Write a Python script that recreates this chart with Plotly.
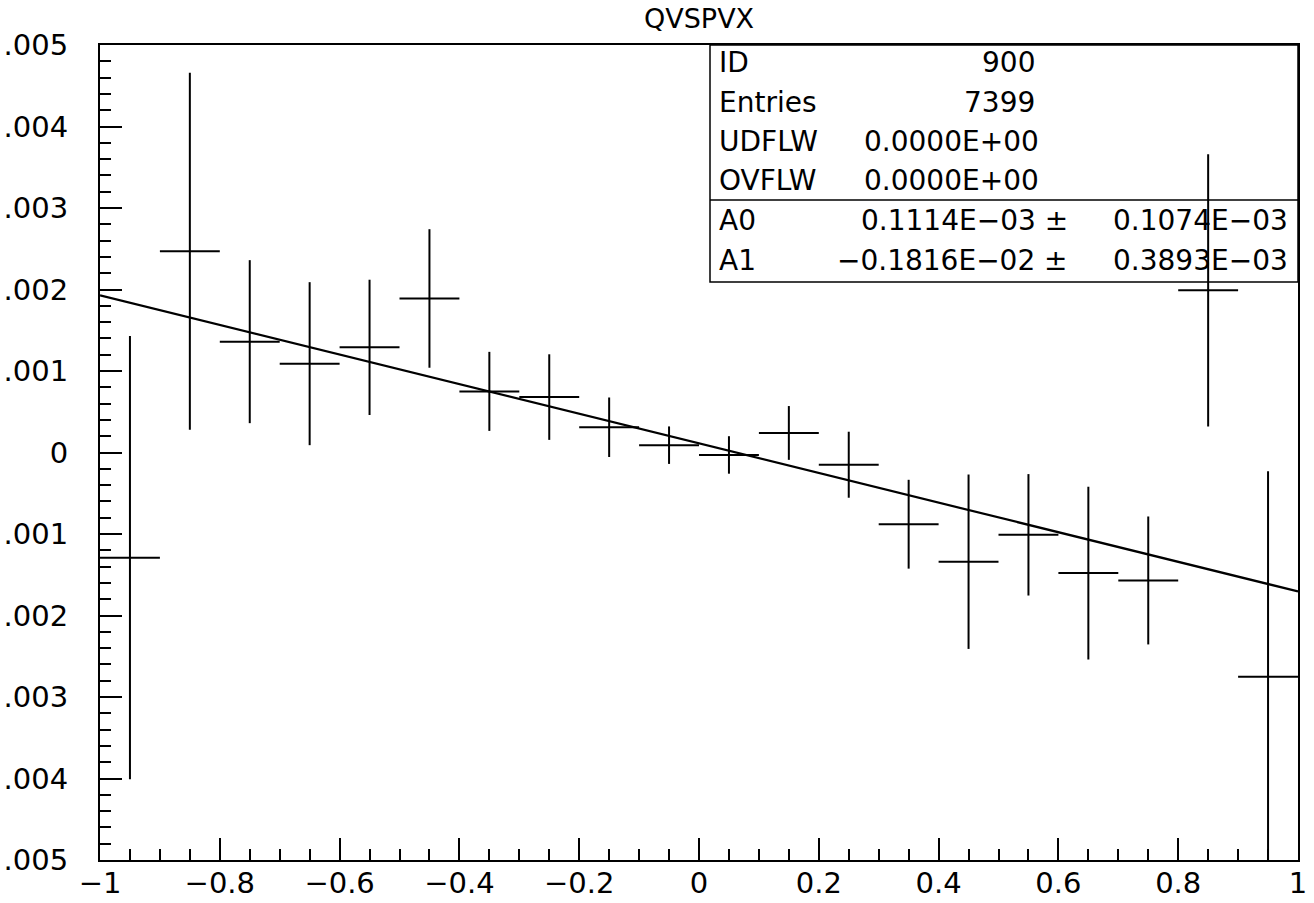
import plotly.graph_objects as go

# ---------------- data ----------------
bin_centers = [-0.95, -0.85, -0.75, -0.65, -0.55, -0.45, -0.35, -0.25, -0.15, -0.05,
               0.05, 0.15, 0.25, 0.35, 0.45, 0.55, 0.65, 0.75, 0.85, 0.95]
bin_half_widths = [0.05] * 20
values = [-1.29e-3, 2.47e-3, 1.36e-3, 1.09e-3, 1.29e-3, 1.89e-3, 0.75e-3, 0.68e-3, 0.31e-3, 0.09e-3,
          -0.03e-3, 0.24e-3, -0.15e-3, -0.88e-3, -1.34e-3, -1.01e-3, -1.48e-3, -1.57e-3, 1.99e-3, -2.75e-3]
errors = [2.72e-3, 2.19e-3, 1.00e-3, 1.00e-3, 0.83e-3, 0.85e-3, 0.485e-3, 0.525e-3, 0.365e-3, 0.23e-3,
          0.23e-3, 0.33e-3, 0.405e-3, 0.545e-3, 1.07e-3, 0.745e-3, 1.06e-3, 0.785e-3, 1.67e-3, 2.52e-3]

# fit parameters (pol1) shown in stats box
A0 = 0.1114e-3
A1 = -0.1816e-2
fit_x = [-1.0, 1.0]

x_tickvals = [-1, -0.8, -0.6, -0.4, -0.2, 0, 0.2, 0.4, 0.6, 0.8, 1]
x_ticktext = ["\u22121", "\u22120.8", "\u22120.6", "\u22120.4", "\u22120.2", "0", "0.2", "0.4", "0.6", "0.8", "1"]
y_tickvals = [0.005, 0.004, 0.003, 0.002, 0.001, 0.0, -0.001, -0.002, -0.003, -0.004, -0.005]
y_ticktext = [".005", ".004", ".003", ".002", ".001", "0", ".001", ".002", ".003", ".004", ".005"]

title_text = "QVSPVX"
stats_labels = ["ID", "Entries", "UDFLW", "OVFLW"]
stats_values = ["900", "7399", "0.0000E+00", "0.0000E+00"]
fit_labels = ["A0", "A1"]
fit_values = ["0.1114E\u221203 \u00b1", "\u22120.1816E\u221202 \u00b1"]
fit_errors = ["0.1074E\u221203", "0.3893E\u221203"]

# ---------------- layout geometry ----------------
W, H = 1314, 903
L, R, T, B = 100, 16, 45, 43
PW, PH = W - L - R, H - T - B

def px(xp):
    return (xp - L) / PW

def py(yp):
    return (H - B - yp) / PH

FONT = "DejaVu Sans"
FS_TICK = 29
FS_STAT = 28
FS_TITLE = 27

fig = go.Figure()

fig.add_trace(go.Scatter(
    x=fit_x, y=[A0 + A1 * v for v in fit_x], mode="lines",
    line=dict(color="black", width=2.2), hoverinfo="skip", showlegend=False))

fig.add_trace(go.Scatter(
    x=bin_centers, y=values, mode="markers",
    marker=dict(size=1, color="black", opacity=0),
    error_x=dict(type="data", array=bin_half_widths, width=0, thickness=2, color="black"),
    error_y=dict(type="data", array=errors, width=0, thickness=2, color="black"),
    showlegend=False))

axis_common = dict(showgrid=False, zeroline=False, showline=True, linecolor="black",
                   linewidth=2, mirror=True, ticks="inside", tickcolor="black",
                   tickwidth=2, ticklen=22, automargin=False,
                   tickfont=dict(family=FONT, size=FS_TICK, color="black"))

fig.update_xaxes(range=[-1, 1], tickvals=x_tickvals, ticktext=x_ticktext,
                 minor=dict(dtick=0.05, tick0=-1, ticks="inside", ticklen=11,
                            tickwidth=2, tickcolor="black"),
                 ticklabelstandoff=-4, **axis_common)
fig.update_yaxes(range=[-0.005, 0.005], tickvals=y_tickvals, ticktext=y_ticktext,
                 minor=dict(dtick=0.0002, tick0=-0.005, ticks="inside", ticklen=11,
                            tickwidth=2, tickcolor="black"),
                 ticklabelstandoff=24, **axis_common)

shapes = [
    dict(type="rect", xref="paper", yref="paper", x0=px(710), x1=1, y0=py(282), y1=1,
         line=dict(color="black", width=1.5), fillcolor="rgba(0,0,0,0)"),
    dict(type="line", xref="paper", yref="paper", x0=px(710), x1=1, y0=py(200), y1=py(200),
         line=dict(color="black", width=1.5)),
]

def txt(s, x, y, anchor, size):
    return dict(text=s, xref="paper", yref="paper", x=px(x), y=py(y),
                xanchor=anchor, yanchor="middle", showarrow=False,
                font=dict(family=FONT, size=size, color="black"))

annotations = [txt(title_text, 699, 19, "center", FS_TITLE)]

row_y = [63, 102, 141, 180]
for i, (lab, val) in enumerate(zip(stats_labels, stats_values)):
    annotations.append(txt(lab, 717, row_y[i], "left", FS_STAT))
    if i < 2:
        annotations.append(txt(val, 1037, row_y[i], "right", FS_STAT))
    else:
        annotations.append(txt(val, 862, row_y[i], "left", FS_STAT))

fit_row_y = [221, 260]
for i in range(2):
    annotations.append(txt(fit_labels[i], 717, fit_row_y[i], "left", FS_STAT))
    annotations.append(txt(fit_values[i], 1070, fit_row_y[i], "right", FS_STAT))
    annotations.append(txt(fit_errors[i], 1290, fit_row_y[i], "right", FS_STAT))

fig.update_layout(width=W, height=H, margin=dict(l=L, r=R, t=T, b=B),
                  paper_bgcolor="white", plot_bgcolor="white",
                  shapes=shapes, annotations=annotations, showlegend=False)

fig.write_html("out.html")
